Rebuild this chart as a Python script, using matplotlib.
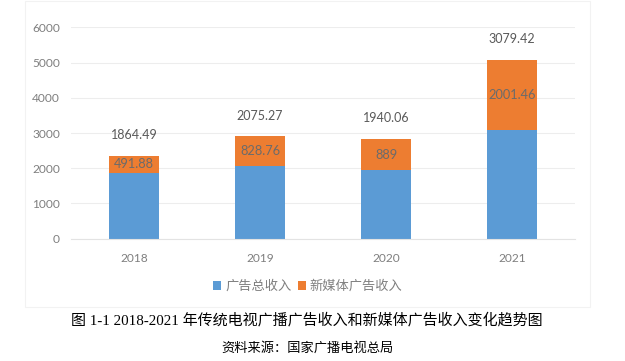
import matplotlib
matplotlib.use("Agg")
from matplotlib import pyplot as plt
from matplotlib.patches import Rectangle

YEARS = ["2018", "2019", "2020", "2021"]
TV_INCOME = [1864.49, 2075.27, 1940.06, 3079.42]
NEW_MEDIA_INCOME = [491.88, 828.76, 889, 2001.46]
NEW_MEDIA_LABELS = ["491.88", "828.76", "889", "2001.46"]
SERIES_NAMES = ["广告总收入", "新媒体广告收入"]
CAPTION = "图 1-1 2018-2021 年传统电视广播广告收入和新媒体广告收入变化趋势图"
SOURCE = "资料来源：国家广播电视总局"

BLUE = "#5B9BD5"
ORANGE = "#ED7D31"
GRAY = "#7F7F7F"
CJK = ["Noto Sans CJK SC", "DejaVu Sans"]

plt.rcParams["font.family"] = ["Lato", "Noto Sans CJK SC", "DejaVu Sans"]

fig = plt.figure(figsize=(6.25, 3.61), dpi=100)

# faint chart frame
fig.patches.append(Rectangle((25 / 625, 1 - 307 / 361), 565 / 625, 306 / 361,
                             transform=fig.transFigure, fill=False,
                             edgecolor="#F2F2F2", linewidth=0.8))

ax = fig.add_axes([71 / 625, 1 - 238.7 / 361, 504 / 625, 211.4 / 361])
x = list(range(len(YEARS)))
ax.bar(x, TV_INCOME, width=0.4, color=BLUE, label=SERIES_NAMES[0], zorder=2)
ax.bar(x, NEW_MEDIA_INCOME, width=0.4, bottom=TV_INCOME, color=ORANGE,
       label=SERIES_NAMES[1], zorder=2)

ax.set_xlim(-0.5, len(YEARS) - 0.5)
ax.set_ylim(0, 6000)
ax.set_yticks(range(0, 6001, 1000))
ax.set_xticks(x)
ax.set_xticklabels(YEARS)
ax.grid(axis="y", color="#EDEDED", linewidth=0.8, zorder=0)
for s in ["top", "right", "left"]:
    ax.spines[s].set_visible(False)
ax.spines["bottom"].set_color("#E3E3E3")
ax.tick_params(length=0, labelsize=8.6, colors="#7F7F7F")
ax.tick_params(axis="y", pad=8)
ax.tick_params(axis="x", pad=10)

for i in x:
    top = TV_INCOME[i] + NEW_MEDIA_INCOME[i]
    ax.annotate(f"{TV_INCOME[i]:.2f}", (i, top), xytext=(0, 15),
                textcoords="offset points", ha="center", va="center",
                fontsize=9, color="#595959")
    ax.text(i, TV_INCOME[i] + NEW_MEDIA_INCOME[i] / 2, NEW_MEDIA_LABELS[i],
            ha="center", va="center", fontsize=9.2, color="#6b6b6b")

leg = fig.legend(loc="center", bbox_to_anchor=(308 / 625, 1 - 286.5 / 361),
                 ncol=2, frameon=False, handlelength=0.6, handleheight=0.6,
                 handletextpad=0.3, columnspacing=0.5,
                 prop={"family": CJK, "size": 9.5})
for t in leg.get_texts():
    t.set_color(GRAY)

fig.text(307 / 625, 1 - 320 / 361, CAPTION, ha="center", va="center",
         fontsize=10.8, family=["Liberation Serif", "Noto Sans CJK SC"],
         color="black")
fig.text(307 / 625, 1 - 348 / 361, SOURCE, ha="center", va="center",
         fontsize=9.5, family=CJK, color="black")

fig.savefig("out.png", dpi=100)
